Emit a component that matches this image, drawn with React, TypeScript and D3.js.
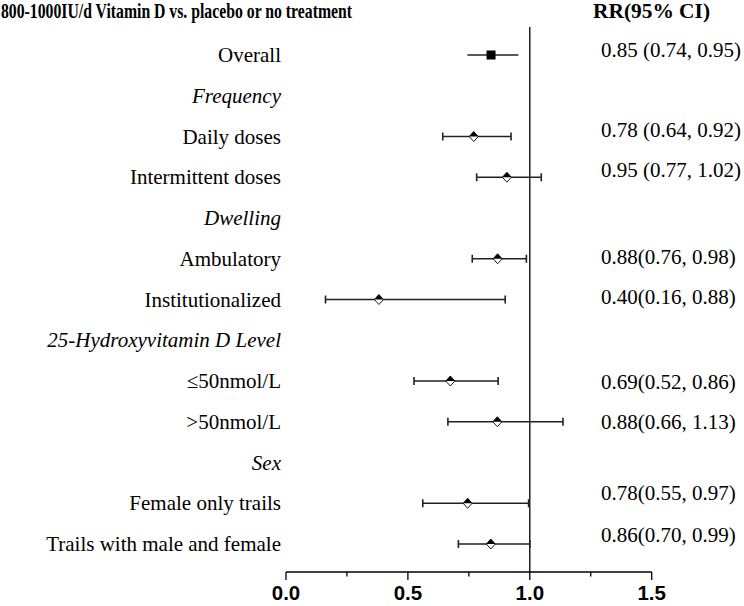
import React from "react";
import * as d3 from "d3";

// Rows (top to bottom)
const rowLabels = [
  "Overall",
  "Frequency",
  "Daily doses",
  "Intermittent doses",
  "Dwelling",
  "Ambulatory",
  "Institutionalized",
  "25-Hydroxyvitamin D Level",
  "\u226450nmol/L",
  "\u003E50nmol/L",
  "Sex",
  "Female only trails",
  "Trails with male and female",
];
const rowIsHeader = [false, true, false, false, true, false, false, true, false, false, true, false, false];
// Plotted estimates; null for header rows
const estimates: (number | null)[] = [0.841, null, 0.77, 0.906, null, 0.868, 0.381, null, 0.674, 0.867, null, 0.745, 0.84];
const lowerCI: (number | null)[] = [0.744, null, 0.643, 0.782, null, 0.764, 0.162, null, 0.525, 0.664, null, 0.561, 0.707];
const upperCI: (number | null)[] = [0.953, null, 0.923, 1.047, null, 0.986, 0.899, null, 0.87, 1.136, null, 0.995, 1.0];
const rrText: (string | null)[] = [
  "0.85 (0.74, 0.95)",
  null,
  "0.78 (0.64, 0.92)",
  "0.95 (0.77, 1.02)",
  null,
  "0.88(0.76, 0.98)",
  "0.40(0.16, 0.88)",
  null,
  "0.69(0.52, 0.86)",
  "0.88(0.66, 1.13)",
  null,
  "0.78(0.55, 0.97)",
  "0.86(0.70, 0.99)",
];
const majorTicks = [0, 0.5, 1.0, 1.5];
const minorTicks = [0.25, 0.75, 1.25];
const titleText = "800-1000IU/d Vitamin D vs. placebo or no treatment";
const rrHeader = "RR(95% CI)";

// layout
const W = 744;
const H = 606;
const valueDy = [-5, 0, -7, -7, 0, -2, -3, 0, 1, 0, 0, -10, -9];

export default function App() {
  const x = d3.scaleLinear().domain([0, 1.5]).range([286, 651.7]);
  const y = d3
    .scaleLinear()
    .domain([0, rowLabels.length - 1])
    .range([55, 544]);
  const axisY = 572;
  const serif = "'Liberation Serif', 'Times New Roman', serif";
  const sans = "'Liberation Sans', Arial, sans-serif";
  const barColor = "#222";

  return (
    <svg
      width={W}
      height={H}
      style={{ position: "absolute", left: 0, top: 0, display: "block", background: "#fff" }}
    >
      <rect x={0} y={0} width={W} height={H} fill="#fff" />
      {/* title */}
      <text
        x={1}
        y={18}
        fontFamily={serif}
        fontWeight="bold"
        fontSize={21}
        textLength={351}
        lengthAdjust="spacingAndGlyphs"
        fill="#000"
      >
        {titleText}
      </text>
      <text
        x={593}
        y={18}
        fontFamily={serif}
        fontWeight="bold"
        fontSize={21}
        textLength={117}
        lengthAdjust="spacingAndGlyphs"
        fill="#000"
      >
        {rrHeader}
      </text>

      {/* reference line at 1.0 */}
      <line x1={x(1)} x2={x(1)} y1={27} y2={axisY} stroke="#000" strokeWidth={1.3} />

      {/* row labels */}
      {rowLabels.map((lab, i) => (
        <text
          key={"l" + i}
          x={281}
          y={y(i) + 7}
          textAnchor="end"
          fontFamily={serif}
          fontSize={21}
          fontStyle={rowIsHeader[i] ? "italic" : "normal"}
          fill="#000"
        >
          {lab}
        </text>
      ))}

      {/* CIs and markers */}
      {estimates.map((est, i) => {
        if (est == null) return null;
        const lo = lowerCI[i] as number;
        const hi = upperCI[i] as number;
        const cy = y(i);
        const cx = x(est);
        const isOverall = i === 0;
        return (
          <g key={"m" + i}>
            <line x1={x(lo)} x2={x(hi)} y1={cy} y2={cy} stroke={barColor} strokeWidth={1.6} />
            {!isOverall && (
              <>
                <line x1={x(lo)} x2={x(lo)} y1={cy - 4} y2={cy + 4} stroke={barColor} strokeWidth={1.6} />
                <line x1={x(hi)} x2={x(hi)} y1={cy - 4} y2={cy + 4} stroke={barColor} strokeWidth={1.6} />
              </>
            )}
            {isOverall ? (
              <rect x={cx - 4.5} y={cy - 4.5} width={9} height={9} fill="#000" />
            ) : (
              <>
                <path
                  d={`M${cx - 4.5},${cy} L${cx},${cy - 5} L${cx + 4.5},${cy} L${cx},${cy + 5} Z`}
                  fill="#fff"
                  stroke="#000"
                  strokeWidth={0.9}
                />
                <path d={`M${cx - 4.5},${cy} L${cx},${cy - 5} L${cx + 4.5},${cy} Z`} fill="#000" />
              </>
            )}
          </g>
        );
      })}

      {/* RR values */}
      {rrText.map((t, i) =>
        t == null ? null : (
          <text
            key={"v" + i}
            x={601}
            y={y(i) + 7 + valueDy[i]}
            fontFamily={serif}
            fontSize={21}
            fill="#000"
          >
            {t}
          </text>
        )
      )}

      {/* x axis */}
      <line x1={x(0)} x2={x(1.5)} y1={axisY} y2={axisY} stroke="#000" strokeWidth={1.3} />
      {majorTicks.map((t) => (
        <g key={"t" + t}>
          <line x1={x(t)} x2={x(t)} y1={axisY} y2={axisY + 8} stroke="#000" strokeWidth={1.3} />
          <text
            x={x(t)}
            y={600}
            textAnchor="middle"
            fontFamily={sans}
            fontWeight="bold"
            fontSize={20.5}
            fill="#000"
          >
            {d3.format(".1f")(t)}
          </text>
        </g>
      ))}
      {minorTicks.map((t) => (
        <line key={"n" + t} x1={x(t)} x2={x(t)} y1={axisY} y2={axisY + 4.5} stroke="#000" strokeWidth={1.3} />
      ))}
    </svg>
  );
}
